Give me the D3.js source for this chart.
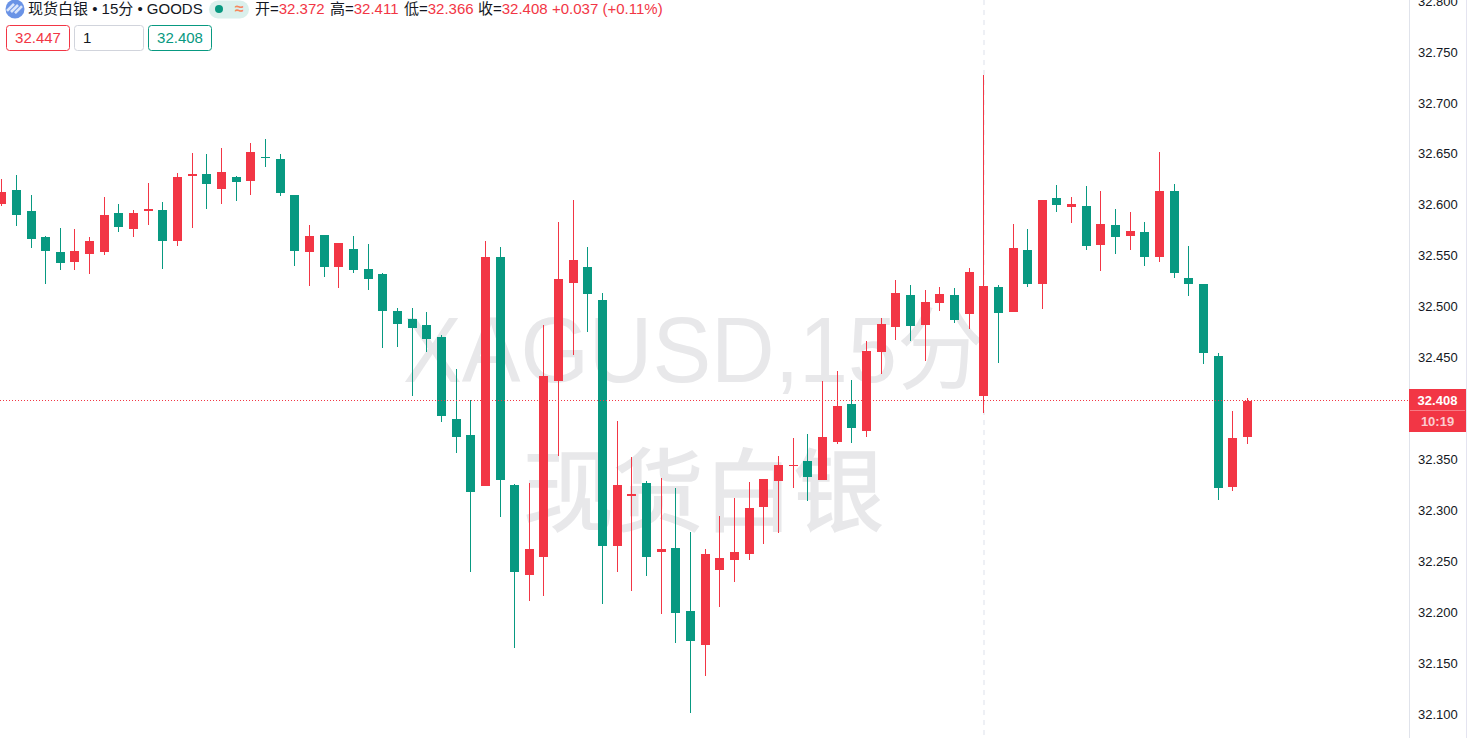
<!DOCTYPE html>
<html>
<head>
<meta charset="utf-8">
<style>
html,body{margin:0;padding:0;background:#fff;overflow:hidden}
svg{display:block}
text{font-family:"Liberation Sans","Noto Sans CJK SC",sans-serif}
</style>
<script src="https://cdn.jsdelivr.net/npm/d3@7"></script>
</head>
<body>
<svg id="c" width="1467" height="738"></svg>
<script>
const opens = [32.601,32.615,32.594,32.569,32.554,32.544,32.552,32.554,32.592,32.577,32.594,32.595,32.565,32.629,32.631,32.616,32.628,32.624,32.647,32.645,32.610,32.554,32.571,32.539,32.557,32.537,32.532,32.496,32.488,32.482,32.471,32.390,32.374,32.324,32.549,32.325,32.237,32.255,32.427,32.524,32.539,32.507,32.265,32.315,32.327,32.260,32.263,32.202,32.168,32.242,32.252,32.258,32.304,32.329,32.344,32.349,32.330,32.368,32.405,32.378,32.456,32.480,32.512,32.482,32.504,32.512,32.493,32.413,32.520,32.495,32.556,32.523,32.607,32.598,32.599,32.561,32.581,32.570,32.574,32.549,32.614,32.529,32.523,32.452,32.323,32.372];
const highs = [32.626,32.630,32.610,32.570,32.578,32.577,32.569,32.608,32.601,32.595,32.622,32.603,32.632,32.651,32.650,32.656,32.629,32.661,32.665,32.650,32.610,32.581,32.571,32.563,32.570,32.562,32.533,32.499,32.499,32.495,32.473,32.439,32.409,32.565,32.559,32.326,32.327,32.482,32.584,32.605,32.559,32.514,32.388,32.353,32.329,32.332,32.322,32.279,32.262,32.295,32.313,32.328,32.331,32.354,32.371,32.375,32.427,32.437,32.428,32.467,32.489,32.527,32.522,32.517,32.520,32.519,32.538,32.728,32.522,32.582,32.577,32.605,32.620,32.608,32.619,32.614,32.596,32.593,32.584,32.652,32.621,32.560,32.523,32.455,32.398,32.411];
const lows = [32.599,32.580,32.558,32.523,32.536,32.536,32.532,32.551,32.574,32.569,32.581,32.537,32.560,32.578,32.596,32.601,32.604,32.610,32.638,32.609,32.540,32.521,32.530,32.519,32.533,32.517,32.460,32.461,32.413,32.456,32.387,32.357,32.240,32.324,32.294,32.165,32.211,32.216,32.354,32.453,32.476,32.208,32.240,32.221,32.236,32.199,32.170,32.101,32.138,32.206,32.230,32.252,32.267,32.278,32.322,32.310,32.330,32.366,32.367,32.372,32.434,32.468,32.467,32.447,32.496,32.484,32.478,32.396,32.445,32.495,32.520,32.498,32.593,32.583,32.556,32.535,32.552,32.556,32.540,32.544,32.529,32.511,32.444,32.311,32.319,32.366];
const closes = [32.613,32.590,32.567,32.555,32.543,32.555,32.565,32.590,32.579,32.592,32.596,32.565,32.628,32.631,32.621,32.633,32.623,32.652,32.646,32.612,32.555,32.570,32.539,32.563,32.536,32.528,32.496,32.483,32.479,32.469,32.393,32.372,32.318,32.549,32.330,32.240,32.262,32.432,32.528,32.546,32.513,32.265,32.325,32.316,32.255,32.262,32.200,32.172,32.258,32.254,32.260,32.303,32.331,32.345,32.345,32.333,32.372,32.403,32.381,32.457,32.483,32.514,32.481,32.505,32.513,32.487,32.534,32.521,32.494,32.558,32.523,32.605,32.600,32.601,32.560,32.582,32.569,32.575,32.549,32.614,32.533,32.523,32.455,32.322,32.371,32.408];
const priceTicks = [32.8,32.75,32.7,32.65,32.6,32.55,32.5,32.45,32.35,32.3,32.25,32.2,32.15,32.1];
const watermarkLines = ["XAGUSD,15分","现货白银"];
const symbolTitle = "现货白银 • 15分 • GOODS";
const ohlcLabels = [["开=","32.372"],["高=","32.411"],["低=","32.366"],["收=","32.408"]];
const changeLabel = "+0.037 (+0.11%)";
const bidPrice = "32.447", quantity = "1", askPrice = "32.408";
const lastPrice = 32.408, countdown = "10:19";

const RED = "#F23645", GREEN = "#089981", GRID = "#E0E3EB", INK = "#131722";
const svg = d3.select("#c");
const x = d3.scaleLinear().domain([0, opens.length - 1]).range([1.21, 1247.01]);
const y = d3.scaleLinear().domain([32.1, 32.8]).range([714.5, 1.5]);
const px = i => Math.round(x(i));

// watermark
const wm = svg.append("g").attr("fill", "#E8E8EA").attr("font-size", 92);
wm.append("text").attr("x", 694).attr("y", 382).attr("text-anchor", "middle").attr("textLength", 582).attr("lengthAdjust", "spacingAndGlyphs").text(watermarkLines[0]);
wm.append("text").attr("x", 703.5).attr("y", 524).attr("font-size", 90).attr("text-anchor", "middle")
  .attr("stroke", "#E8E8EA").attr("stroke-width", 1.5).text(watermarkLines[1]);

// crosshair
svg.append("line").attr("x1", 984).attr("x2", 984).attr("y1", 0).attr("y2", 738)
  .attr("stroke", "#EEF0F5").attr("stroke-width", 2).attr("stroke-dasharray", "5 5");

// candles
const candles = svg.append("g").attr("shape-rendering", "crispEdges")
  .selectAll("g").data(d3.range(opens.length)).join("g")
  .attr("fill", i => closes[i] >= opens[i] ? RED : GREEN);
candles.append("rect")
  .attr("x", i => px(i)).attr("width", 1)
  .attr("y", i => y(highs[i])).attr("height", i => y(lows[i]) - y(highs[i]));
candles.append("rect")
  .attr("x", i => px(i) - 4).attr("width", 9)
  .attr("y", i => y(Math.max(opens[i], closes[i])))
  .attr("height", i => Math.max(1, Math.abs(y(opens[i]) - y(closes[i]))));

// last price line
svg.append("line").attr("x1", 0).attr("x2", 1409).attr("y1", Math.floor(y(lastPrice)) + 0.5).attr("y2", Math.floor(y(lastPrice)) + 0.5)
  .attr("stroke", RED).attr("stroke-width", 1).attr("stroke-dasharray", "1 2");

// price axis
svg.append("rect").attr("x", 1409).attr("y", 0).attr("width", 1).attr("height", 738).attr("fill", GRID);
svg.append("rect").attr("x", 1466).attr("y", 0).attr("width", 1).attr("height", 738).attr("fill", "#E4E4F0");
const axis = d3.axisRight(y).tickValues(priceTicks).tickSize(0).tickPadding(0).tickFormat(d3.format(".3f"));
const ag = svg.append("g").attr("transform", "translate(1418,-0.5)").call(axis);
ag.select(".domain").remove();
ag.selectAll("text").attr("font-size", 13).attr("fill", INK).attr("font-family", "Liberation Sans");

// last price tag
const tagY = Math.floor(y(lastPrice)) - 11;
svg.append("rect").attr("x", 1409).attr("y", tagY).attr("width", 57).attr("height", 43).attr("fill", RED);
svg.append("rect").attr("x", 1410).attr("y", tagY + 21).attr("width", 55).attr("height", 1).attr("fill", "#F77A85");
svg.append("text").attr("x", 1437.5).attr("y", tagY + 16).attr("text-anchor", "middle").attr("font-size", 13).attr("font-weight", 700).attr("fill", "#fff").text(d3.format(".3f")(lastPrice));
svg.append("text").attr("x", 1437.5).attr("y", tagY + 37).attr("text-anchor", "middle").attr("font-size", 13).attr("font-weight", 700).attr("fill", "#fff").attr("fill-opacity", 0.75).text(countdown);

// header
const icon = svg.append("g");
icon.append("circle").attr("cx", 15).attr("cy", 9).attr("r", 9.5).attr("fill", "#6A93E6");
[-4, 0, 4].forEach(d => icon.append("line")
  .attr("x1", 11 + d).attr("y1", 12 + d * 0.3).attr("x2", 18 + d).attr("y2", 5 + d * 0.3)
  .attr("stroke", "#DCE6FB").attr("stroke-width", 2.6));
svg.append("text").attr("x", 28).attr("y", 14).attr("font-size", 15).attr("fill", INK).text(symbolTitle);
svg.append("rect").attr("x", 209).attr("y", 0.5).attr("width", 40).attr("height", 18).attr("rx", 9).attr("fill", "#DAF0EC");
svg.append("circle").attr("cx", 219).attr("cy", 9).attr("r", 4).attr("fill", GREEN);
svg.append("text").attr("x", 239.5).attr("y", 14).attr("text-anchor", "middle").attr("font-size", 16).attr("font-weight", 700).attr("fill", "#F7875F").text("≈");

const labelXs = [255, 330, 404, 478];
ohlcLabels.forEach(([k, v], i) => {
  const t = svg.append("text").attr("x", labelXs[i]).attr("y", 14).attr("font-size", 15);
  t.append("tspan").attr("fill", INK).text(k);
  t.append("tspan").attr("fill", RED).text(v);
});
svg.append("text").attr("x", 552).attr("y", 14).attr("font-size", 15).attr("fill", RED).text(changeLabel);

// order boxes
const boxes = [[6.5, 63, RED, bidPrice, RED, "middle"], [74.5, 69, "#D1D4DC", quantity, INK, "start"], [148.5, 63, GREEN, askPrice, GREEN, "middle"]];
boxes.forEach(([bx, w, stroke, label, color, anchor]) => {
  svg.append("rect").attr("x", bx).attr("y", 25.5).attr("width", w).attr("height", 25).attr("rx", 3).attr("fill", "#fff").attr("stroke", stroke);
  svg.append("text").attr("x", anchor === "middle" ? bx + w / 2 : bx + 8.5).attr("y", 43).attr("text-anchor", anchor)
    .attr("font-size", 15).attr("fill", color).text(label);
});
</script>
</body>
</html>
